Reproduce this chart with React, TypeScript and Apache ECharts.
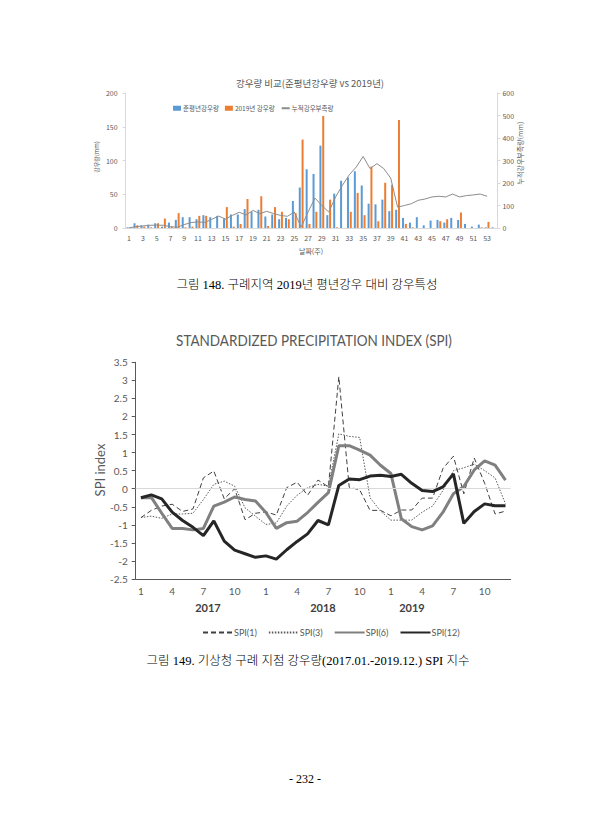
import React, { useEffect, useRef } from "react";
import * as echarts from "echarts";

const weeks = ["1","2","3","4","5","6","7","8","9","10","11","12","13","14","15","16","17","18","19","20","21","22","23","24","25","26","27","28","29","30","31","32","33","34","35","36","37","38","39","40","41","42","43","44","45","46","47","48","49","50","51","52","53","54"];
const normalRain = [1,7,4,5,7,2,8,12,16,16,13,19,16,18,14,20,20,28,24,27,17,20,13,15,40,60,87,80,122,19,51,70,75,84,63,36,35,42,25,27,15,8,16,4,11,12,8,15,12,6,2,5,1,1];
const rain2019 = [0,4,2,1,7,14,2,22,1,2,18,18,0,0,31,2,6,43,0,47,3,31,24,13,22,131,6,24,166,42,1,0,24,52,19,91,10,67,64,160,6,1,0,0,0,10,13,0,23,0,0,1,9,0];
const deficit = [1,6,9,12,13,12,6,3,15,24,27,25,38,53,40,56,70,58,78,64,74,64,56,52,71,4,71,133,100,71,138,190,237,271,318,264,286,264,222,93,100,108,123,129,138,141,138,151,138,144,147,151,141,null];

const months = ["1","2","3","4","5","6","7","8","9","10","11","12","1","2","3","4","5","6","7","8","9","10","11","12","1","2","3","4","5","6","7","8","9","10","11","12"];
const spi1 = [-0.8,-0.6,-0.48,-0.43,-0.63,-0.56,0.3,0.49,-0.28,0.0,-0.86,-0.68,-0.64,-0.73,0.03,0.18,-0.18,0.24,0.05,3.1,0.04,-0.03,-0.6,-0.6,-0.75,-0.59,-0.59,-0.26,-0.26,0.56,0.9,-0.14,0.85,0.15,-0.7,-0.62];
const spi3 = [-0.8,-0.76,-0.82,-0.7,-0.7,-0.68,-0.3,0.12,0.21,0.07,-0.53,-0.76,-0.99,-0.95,-0.48,-0.18,0.03,0.12,0.07,1.52,1.45,1.42,-0.25,-0.62,-0.87,-0.87,-0.87,-0.65,-0.48,-0.05,0.5,0.58,0.68,0.5,0.3,-0.42];
const spi6 = [-0.25,-0.24,-0.68,-1.1,-1.1,-1.14,-1.1,-0.48,-0.37,-0.23,-0.3,-0.34,-0.66,-1.1,-0.94,-0.9,-0.66,-0.38,-0.11,1.19,1.19,1.07,0.93,0.65,0.42,-0.83,-1.05,-1.14,-1.03,-0.65,-0.14,0.06,0.52,0.77,0.65,0.24];
const spi12 = [-0.25,-0.17,-0.28,-0.65,-0.88,-1.07,-1.3,-0.89,-1.45,-1.7,-1.8,-1.9,-1.86,-1.95,-1.69,-1.46,-1.25,-0.88,-1.0,0.09,0.27,0.25,0.35,0.37,0.34,0.4,0.15,-0.05,-0.08,0.05,0.41,-0.96,-0.63,-0.42,-0.47,-0.47];
const yearLabels = ["2017", "2018", "2019"];

const KR = "'Noto Sans CJK KR', sans-serif";
const LAT = "Lato, 'Open Sans', sans-serif";
const SERIF = "'Liberation Serif', 'Noto Sans CJK KR', serif";
const GRAY = "#595959";

export default function App() {
  const ref = useRef<HTMLDivElement>(null);
  useEffect(() => {
    const chart = echarts.init(ref.current!, null, { renderer: "svg" });
    const yearX = [208, 323, 412];
    const option: any = {
      animation: false,
      backgroundColor: "#ffffff",
      grid: [
        { left: 125.6, top: 93, width: 371.8, height: 135 },
        { left: 135.7, top: 362.3, width: 375, height: 216.7 },
      ],
      legend: [
        {
          left: 168, top: 100, itemWidth: 8, itemHeight: 5, itemGap: 6,
          textStyle: { fontSize: 6.5, color: GRAY, fontFamily: KR, padding: [0, 0, 0, -3] },
          data: [
            { name: "준평년강우량", icon: "rect" },
            { name: "2019년 강우량", icon: "rect" },
            { name: "누적강우부족량", itemStyle: { opacity: 0 } },
          ],
        },
        {
          left: 197, top: 623, itemWidth: 30, itemHeight: 8, itemGap: 11,
          itemStyle: { opacity: 0 },
          textStyle: { fontSize: 9, color: GRAY, fontFamily: LAT, padding: [0, 0, 0, -4] },
          data: ["SPI(1)", "SPI(3)", "SPI(6)", "SPI(12)"],
        },
      ],
      xAxis: [
        {
          type: "category", gridIndex: 0, data: weeks,
          axisLine: { onZero: false, lineStyle: { color: "#D9D9D9" } },
          axisTick: { show: false },
          axisLabel: { interval: 1, fontSize: 7, color: GRAY, fontFamily: KR, margin: 6 },
        },
        {
          type: "category", gridIndex: 1, data: months,
          axisLine: { onZero: false, lineStyle: { color: "#595959" } },
          axisTick: { interval: 1, length: 4, lineStyle: { color: "#595959" } },
          axisLabel: { interval: 2, fontSize: 10, color: GRAY, fontFamily: LAT, margin: 7 },
        },
      ],
      yAxis: [
        {
          type: "value", gridIndex: 0, min: 0, max: 200, interval: 50, position: "left",
          axisLine: { show: true, lineStyle: { color: "#D9D9D9" } },
          axisTick: { show: true, length: 3, lineStyle: { color: "#D9D9D9" } },
          splitLine: { show: false },
          axisLabel: { fontSize: 7, color: GRAY, fontFamily: KR, margin: 8 },
        },
        {
          type: "value", gridIndex: 0, min: 0, max: 600, interval: 100, position: "right",
          axisLine: { show: true, lineStyle: { color: "#D9D9D9" } },
          axisTick: { show: true, length: 3, lineStyle: { color: "#D9D9D9" } },
          splitLine: { show: false },
          axisLabel: { fontSize: 7, color: GRAY, fontFamily: KR, margin: 5 },
        },
        {
          type: "value", gridIndex: 1, min: -2.5, max: 3.5, interval: 0.5,
          axisLine: { show: true, lineStyle: { color: "#595959" } },
          axisTick: { show: true, length: 4, lineStyle: { color: "#595959" } },
          splitLine: { show: false },
          axisLabel: { fontSize: 10, color: GRAY, fontFamily: LAT, margin: 8 },
        },
      ],
      series: [
        {
          name: "준평년강우량", type: "bar", xAxisIndex: 0, yAxisIndex: 0, data: normalRain,
          barWidth: 2, barGap: "40%", itemStyle: { color: "#5B9BD5" },
        },
        {
          name: "2019년 강우량", type: "bar", xAxisIndex: 0, yAxisIndex: 0, data: rain2019,
          barWidth: 2, barGap: "40%", itemStyle: { color: "#ED7D31" },
        },
        {
          name: "누적강우부족량", type: "line", xAxisIndex: 0, yAxisIndex: 1, data: deficit,
          symbol: "none", itemStyle: { color: "#8C8C8C" }, lineStyle: { color: "#8C8C8C", width: 1 },
        },
        {
          name: "SPI(1)", type: "line", xAxisIndex: 1, yAxisIndex: 2, data: spi1, symbol: "none",
          itemStyle: { color: "#404040" }, lineStyle: { color: "#404040", width: 1, type: [5, 3] }, z: 3,
          markLine: {
            silent: true, symbol: ["none", "none"], label: { show: false },
            lineStyle: { color: "#D9D9D9", type: "solid", width: 1 },
            data: [{ yAxis: 0 }],
          },
        },
        {
          name: "SPI(3)", type: "line", xAxisIndex: 1, yAxisIndex: 2, data: spi3, symbol: "none",
          itemStyle: { color: "#595959" }, lineStyle: { color: "#595959", width: 1, type: [1.5, 1.5] }, z: 3,
        },
        {
          name: "SPI(6)", type: "line", xAxisIndex: 1, yAxisIndex: 2, data: spi6, symbol: "none",
          itemStyle: { color: "#808080" }, lineStyle: { color: "#808080", width: 3 }, z: 4,
        },
        {
          name: "SPI(12)", type: "line", xAxisIndex: 1, yAxisIndex: 2, data: spi12, symbol: "none",
          itemStyle: { color: "#262626" }, lineStyle: { color: "#262626", width: 3 }, z: 5,
        },
      ],
      graphic: [
        { type: "text", x: 310, y: 83, style: { text: "강우량 비교(준평년강우량 vs 2019년)", fill: GRAY, font: `9.5px ${KR}`, textAlign: "center", textVerticalAlign: "middle" } },
        { type: "text", x: 96, y: 157, rotation: Math.PI / 2, style: { text: "강우량(mm)", fill: GRAY, font: `6px ${KR}`, textAlign: "center", textVerticalAlign: "middle" } },
        { type: "text", x: 520, y: 153, rotation: Math.PI / 2, style: { text: "누적강우부족량(mm)", fill: GRAY, font: `7px ${KR}`, textAlign: "center", textVerticalAlign: "middle" } },
        { type: "text", x: 311, y: 251, style: { text: "날짜(주)", fill: GRAY, font: `7px ${KR}`, textAlign: "center", textVerticalAlign: "middle" } },
        { type: "text", x: 307, y: 285, style: { text: "그림 148. 구례지역 2019년 평년강우 대비 강우특성", fill: "#000", font: `300 12.5px ${SERIF}`, textAlign: "center", textVerticalAlign: "middle" } },
        { type: "text", x: 314, y: 340, scaleX: 0.9, style: { text: "STANDARDIZED PRECIPITATION INDEX (SPI)", fill: GRAY, font: `15px ${LAT}`, textAlign: "center", textVerticalAlign: "middle" } },
        { type: "text", x: 100, y: 470, rotation: Math.PI / 2, style: { text: "SPI index", fill: GRAY, font: `13px ${LAT}`, textAlign: "center", textVerticalAlign: "middle" } },
        ...yearLabels.map((t, i) => ({ type: "text", x: yearX[i], y: 607, style: { text: t, fill: "#404040", font: `bold 11px ${LAT}`, textAlign: "center", textVerticalAlign: "middle" } })),
        { type: "text", x: 308, y: 661, style: { text: "그림 149. 기상청 구례 지점 강우량(2017.01.-2019.12.) SPI 지수", fill: "#000", font: `300 12.5px ${SERIF}`, textAlign: "center", textVerticalAlign: "middle" } },
        { type: "text", x: 305, y: 779, style: { text: "- 232 -", fill: "#000", font: `12px ${SERIF}`, textAlign: "center", textVerticalAlign: "middle" } },
      ],
    };
    chart.setOption(option);
    return () => chart.dispose();
  }, []);
  return (
    <div
      ref={ref}
      style={{ position: "absolute", left: 0, top: 0, width: 613, height: 840, background: "#fff" }}
    />
  );
}
